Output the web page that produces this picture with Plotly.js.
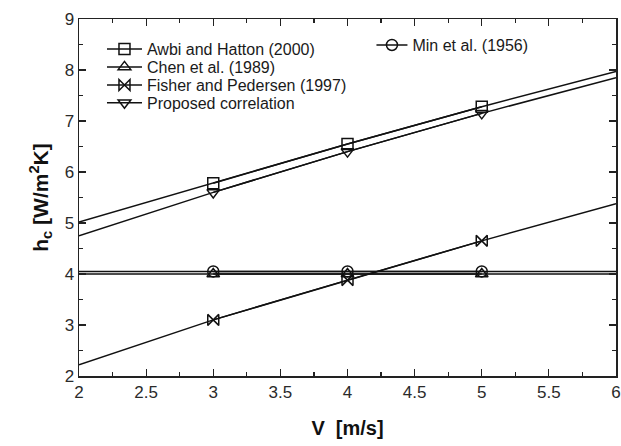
<!DOCTYPE html>
<html>
<head>
<meta charset="utf-8">
<script src="https://cdn.plot.ly/plotly-3.0.1.min.js"></script>
<style>html,body{margin:0;padding:0;background:#fff;}#chart{width:621px;height:446px;}</style>
</head>
<body>
<div id="chart"></div>
<script>
// Data
const velocity = [2, 3, 4, 5, 6];
const markerVelocity = [3, 4, 5];
const awbiHatton = [5.02, 5.78, 6.55, 7.28, 7.97];
const chen = [4.0, 4.0, 4.0, 4.0, 4.0];
const fisherPedersen = [2.22, 3.1, 3.88, 4.65, 5.38];
const proposed = [4.75, 5.6, 6.4, 7.15, 7.85];
const minEtAl = [4.05, 4.05, 4.05, 4.05, 4.05];
const seriesNames = ["Awbi and Hatton (2000)", "Chen et al. (1989)", "Fisher and Pedersen (1997)", "Proposed correlation", "Min et al. (1956)"];

const FONT = "Arial, 'Liberation Sans', sans-serif";
const INK = "#111";

function pair(y, name, symbol, legend) {
  const line = {
    x: velocity, y: y, type: "scatter", mode: "lines", showlegend: false,
    hoverinfo: "skip", line: {color: INK, width: 1.5}
  };
  // marker values at V = 3, 4, 5 taken from the same series
  const ym = markerVelocity.map(v => y[velocity.indexOf(v)]);
  const marks = {
    x: markerVelocity, y: ym, name: name, type: "scatter", mode: "lines+markers",
    legend: legend,
    line: {color: INK, width: 1.5},
    marker: {symbol: symbol, size: 11, color: INK, line: {color: INK, width: 1.5}}
  };
  return [line, marks];
}

const data = [].concat(
  pair(awbiHatton, seriesNames[0], "square-open", "legend"),
  pair(chen, seriesNames[1], "triangle-up-open", "legend3"),
  pair(fisherPedersen, seriesNames[2], "bowtie-open", "legend4"),
  pair(proposed, seriesNames[3], "triangle-down-open", "legend5"),
  pair(minEtAl, seriesNames[4], "circle-open", "legend2")
);

const axisCommon = {
  showgrid: false, zeroline: false, showline: true, linecolor: "#222", linewidth: 1.5,
  mirror: "allticks", ticks: "inside", ticklen: 7, tickwidth: 1.2, tickcolor: "#222",
  tickfont: {family: FONT, size: 17, color: "#2a2a2a"}
};

function leg(x, y, iw) {
  return {
    x: x, y: y, xanchor: "left", yanchor: "middle",
    bgcolor: "rgba(0,0,0,0)", borderwidth: 0,
    font: {family: FONT, size: 16, color: "#1a1a1a"},
    itemwidth: iw
  };
}

const layout = {
  width: 621, height: 446,
  margin: {l: 79, r: 5, t: 19, b: 70},
  paper_bgcolor: "#fff", plot_bgcolor: "#fff",
  font: {family: FONT, color: "#222"},
  xaxis: Object.assign({}, axisCommon, {
    range: [2, 6], dtick: 0.5, tick0: 2,
    minor: {ticks: "inside", dtick: 0.25, ticklen: 4, tickcolor: "#222", tickwidth: 1.2},
    title: {text: "<b>V  [m/s]</b>", font: {family: FONT, size: 20, color: "#111"}, standoff: 20}
  }),
  yaxis: Object.assign({}, axisCommon, {
    range: [2, 9], dtick: 1, tick0: 2,
    minor: {ticks: "inside", dtick: 0.5, ticklen: 4, tickcolor: "#222", tickwidth: 1.2},
    title: {text: "<b>h<sub>c</sub> [W/m<sup>2</sup>K]</b>", font: {family: FONT, size: 21, color: "#111"}, standoff: 10}
  }),
  showlegend: true,
  legend: leg(0.0428, 0.916, 35),
  legend3: leg(0.0428, 0.8655, 35),
  legend4: leg(0.0428, 0.815, 35),
  legend5: leg(0.0428, 0.765, 35),
  legend2: leg(0.5446, 0.927, 31)
};

Plotly.newPlot("chart", data, layout, {displayModeBar: false, staticPlot: true});
</script>
</body>
</html>
